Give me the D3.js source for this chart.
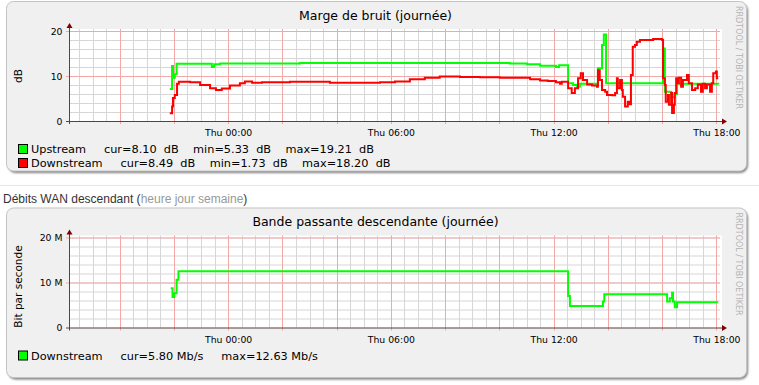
<!doctype html>
<html lang="fr">
<head>
<meta charset="utf-8">
<title>Marge de bruit / Bande passante descendante</title>
<script src="https://cdn.jsdelivr.net/npm/d3@7"></script>
<style>
body { margin: 0; background: #fff; }
svg text { font-family: "DejaVu Sans", sans-serif; }
</style>
</head>
<body>
<div id="svgHolder"></div>
<script>

var width = 759;
var height = 385;

// time window of both graphs (one day, ending Thu ~18:08)
var startTime = new Date(2012, 2, 14, 18, 8);
var endTime = new Date(2012, 2, 15, 18, 8);

// noise margin, dB  [day hh:mm, value]
var upstreamDb = [
	["14 21:51", 7.1], ["14 21:56", 12.2], ["14 21:58", 9.6], ["14 22:02", 10.4],
	["14 22:06", 12.7], ["14 23:24", 12.0], ["14 23:29", 12.6], ["14 23:42", 12.8],
	["15 02:39", 12.9], ["15 07:48", 12.9], ["15 10:23", 12.8], ["15 11:01", 12.6],
	["15 11:30", 12.3], ["15 12:05", 12.0], ["15 12:12", 12.4], ["15 12:32", 8.4],
	["15 12:43", 8.0], ["15 12:52", 7.6], ["15 12:58", 8.3], ["15 13:38", 11.7],
	["15 13:47", 16.9], ["15 13:51", 19.2], ["15 13:56", 8.4], ["15 16:02", 16.1],
	["15 16:06", 6.5], ["15 16:20", 5.3], ["15 16:28", 6.0], ["15 16:33", 8.3],
	["15 18:04", 8.1]
];

var downstreamDb = [
	["14 21:51", 1.7], ["14 21:56", 3.2], ["14 21:58", 5.1], ["14 22:02", 5.8],
	["14 22:07", 8.3], ["14 22:11", 8.7], ["14 22:36", 8.6], ["14 22:58", 8.0],
	["14 23:20", 7.3], ["14 23:33", 6.9], ["14 23:46", 7.2], ["15 00:04", 7.9],
	["15 00:26", 8.4], ["15 00:37", 8.8], ["15 00:53", 8.5], ["15 01:15", 8.6],
	["15 02:17", 8.7], ["15 03:45", 8.5], ["15 05:36", 8.6], ["15 06:09", 8.8],
	["15 06:42", 9.3], ["15 07:15", 9.6], ["15 07:48", 9.9], ["15 08:33", 9.8],
	["15 09:17", 9.7], ["15 10:01", 9.6], ["15 10:45", 9.6], ["15 11:08", 9.3],
	["15 11:30", 9.0], ["15 11:47", 8.9], ["15 12:05", 8.6], ["15 12:14", 8.3],
	["15 12:18", 8.7], ["15 12:32", 7.3], ["15 12:40", 6.2], ["15 12:47", 7.3],
	["15 12:54", 9.5], ["15 13:00", 10.6], ["15 13:05", 9.1], ["15 13:14", 8.1],
	["15 13:25", 7.9], ["15 13:36", 7.6], ["15 13:38", 11.3], ["15 13:42", 9.1],
	["15 13:47", 6.9], ["15 13:54", 6.5], ["15 13:58", 5.8], ["15 14:09", 5.7],
	["15 14:16", 6.2], ["15 14:20", 9.5], ["15 14:22", 7.3], ["15 14:27", 9.1],
	["15 14:31", 6.9], ["15 14:33", 5.4], ["15 14:38", 3.2], ["15 14:44", 4.3],
	["15 14:47", 3.7], ["15 14:51", 10.2], ["15 14:55", 16.5], ["15 15:00", 16.9],
	["15 15:04", 17.6], ["15 15:11", 18.0], ["15 15:40", 18.2], ["15 16:00", 18.0],
	["15 16:02", 9.5], ["15 16:06", 8.0], ["15 16:08", 4.3], ["15 16:13", 5.8],
	["15 16:15", 3.6], ["15 16:20", 6.2], ["15 16:22", 1.8], ["15 16:26", 3.6],
	["15 16:28", 6.2], ["15 16:31", 9.5], ["15 16:35", 8.4], ["15 16:37", 9.6],
	["15 16:42", 7.6], ["15 16:46", 9.1], ["15 16:55", 10.2], ["15 16:59", 8.4],
	["15 17:06", 6.9], ["15 17:13", 7.3], ["15 17:19", 8.1], ["15 17:26", 6.5],
	["15 17:30", 8.3], ["15 17:35", 7.3], ["15 17:39", 8.1], ["15 17:46", 6.5],
	["15 17:50", 8.4], ["15 17:53", 10.6], ["15 17:59", 11.0], ["15 18:01", 9.5],
	["15 18:04", 9.5]
];

// downstream bandwidth, Mb/s
var downstreamMbps = [
	["14 21:53", 8.7], ["14 21:57", 6.8], ["14 22:01", 7.6], ["14 22:06", 10.6],
	["14 22:10", 12.5], ["15 12:32", 7.0], ["15 12:36", 4.8], ["15 13:49", 5.8],
	["15 13:52", 7.4], ["15 16:11", 5.8], ["15 16:17", 6.5], ["15 16:22", 7.7],
	["15 16:24", 5.8], ["15 16:28", 4.5], ["15 16:33", 5.6], ["15 18:04", 5.6]
];

var noiseTitle = "Marge de bruit (journée)";
var noiseNames = ["Upstream", "Downstream"];
var noiseColors = ["#00ff00", "#ff0000"];
var noiseCur = ["8.10", "8.49"];
var noiseMin = ["5.33", "1.73"];
var noiseMax = ["19.21", "18.20"];

var bwTitle = "Bande passante descendante (journée)";
var bwNames = ["Downstream"];
var bwColors = ["#00ff00"];
var bwCur = ["5.80"];
var bwMax = ["12.63"];

var yTicksNoise = [0, 10, 20];
var yTicksBw = [0, 10, 20];

var parseTime = d3.timeParse("%Y-%m-%d %H:%M");
function toPoints(arr) {
	return arr.map(function(d) { return { t: parseTime("2012-03-" + d[0]), v: d[1] }; });
}

var svg = d3.select("#svgHolder").append("svg")
	.attr("width", width)
	.attr("height", height)
	.style("display", "block");

svg.append("rect").attr("width", width).attr("height", height).attr("fill", "#fff");

var defs = svg.append("defs");
defs.append("filter").attr("id", "shadow")
	.attr("x", "-5%").attr("y", "-5%").attr("width", "110%").attr("height", "110%")
	.append("feGaussianBlur").attr("stdDeviation", 0.8);

var x = d3.scaleTime().domain([startTime, endTime]).range([69, 720]);

// draws one rrdtool-like graph box
function drawPanel(top, cfg) {
	var g = svg.append("g").attr("transform", "translate(0," + top + ")");
	var y = d3.scaleLinear().domain([0, 20]).range([121, 31]);

	// frame
	g.append("rect")
		.attr("x", 8).attr("y", 3).attr("width", 740).attr("height", 170).attr("rx", 8)
		.attr("fill", "#808080").attr("filter", "url(#shadow)");
	g.append("rect")
		.attr("x", 6.5).attr("y", 1.5).attr("width", 740).attr("height", 169.5).attr("rx", 7)
		.attr("fill", "#f0f0f0").attr("stroke", "#c4c4c4");

	g.append("text")
		.attr("x", 375.5).attr("y", 19.5)
		.attr("text-anchor", "middle")
		.style("font-size", "12.5px")
		.text(cfg.title);

	g.append("text")
		.attr("transform", "translate(735.5,6) rotate(90)")
		.style("font-size", "8px")
		.attr("fill", "#b4b4b4")
		.text("RRDTOOL / TOBI OETIKER");

	g.append("text")
		.attr("transform", "translate(22," + cfg.labelY + ") rotate(-90)")
		.attr("text-anchor", "middle")
		.style("font-size", "10.5px")
		.text(cfg.yLabel);

	// canvas
	g.append("rect")
		.attr("x", 69).attr("y", 29).attr("width", 653).attr("height", 92)
		.attr("fill", "#fff");

	// minor grid
	g.append("g").selectAll("line")
		.data(d3.timeMinute.every(30).range(startTime, endTime))
		.enter().append("line")
		.attr("x1", function(d) { return Math.round(x(d)) + 0.5; })
		.attr("x2", function(d) { return Math.round(x(d)) + 0.5; })
		.attr("y1", 29).attr("y2", 121)
		.attr("stroke", "#d6d6d6");
	g.append("g").selectAll("line")
		.data(d3.range(2, 21, 2))
		.enter().append("line")
		.attr("x1", 69).attr("x2", 720)
		.attr("y1", function(d) { return Math.round(y(d)) + 0.5; })
		.attr("y2", function(d) { return Math.round(y(d)) + 0.5; })
		.attr("stroke", "#d6d6d6");

	// major grid
	g.append("g").selectAll("line")
		.data(d3.timeHour.every(2).range(startTime, endTime))
		.enter().append("line")
		.attr("x1", function(d) { return Math.round(x(d)) + 0.5; })
		.attr("x2", function(d) { return Math.round(x(d)) + 0.5; })
		.attr("y1", 29).attr("y2", 124)
		.attr("stroke", "#f3a8a8");
	g.append("g").selectAll("line")
		.data(cfg.yTicks.slice(1))
		.enter().append("line")
		.attr("x1", 66).attr("x2", 720)
		.attr("y1", function(d) { return Math.round(y(d)) + 0.5; })
		.attr("y2", function(d) { return Math.round(y(d)) + 0.5; })
		.attr("stroke", "#f3a8a8");

	// series
	var line = d3.line()
		.x(function(d) { return x(d.t); })
		.y(function(d) { return y(d.v); })
		.curve(d3.curveStepAfter);
	cfg.series.forEach(function(s, i) {
		g.append("path")
			.datum(toPoints(s))
			.attr("d", line)
			.attr("fill", "none")
			.attr("stroke", cfg.colors[i])
			.attr("stroke-width", 2);
	});

	// axes + arrows
	g.append("line").attr("x1", 66).attr("x2", 723).attr("y1", 121.5).attr("y2", 121.5)
		.attr("stroke", "#5a4040");
	g.append("line").attr("x1", 69.5).attr("x2", 69.5).attr("y1", 124).attr("y2", 27)
		.attr("stroke", "#5a4040");
	g.append("path").attr("d", "M722,118.5L727,121.5L722,124.5Z").attr("fill", "#800000");
	g.append("path").attr("d", "M66.5,28L69.5,23L72.5,28Z").attr("fill", "#800000");

	// tick labels
	g.append("g").selectAll("text")
		.data(cfg.yTicks)
		.enter().append("text")
		.attr("x", 62.5)
		.attr("y", function(d) { return y(d) + 3.5; })
		.attr("text-anchor", "end")
		.style("font-size", "9.3px")
		.text(cfg.yFormat);
	var fmt = d3.timeFormat("%a %H:%M");
	g.append("g").selectAll("text")
		.data(d3.timeHour.every(6).range(startTime, endTime))
		.enter().append("text")
		.attr("x", function(d) { return x(d) + 0.5; })
		.attr("y", 136)
		.attr("text-anchor", "middle")
		.style("font-size", "9.3px")
		.text(fmt);

	// legend
	cfg.legend.forEach(function(txt, i) {
		var by = 153 + i * 14;
		g.append("rect")
			.attr("x", 18.5).attr("y", by - 8.5).attr("width", 9).attr("height", 9)
			.attr("fill", cfg.colors[i]).attr("stroke", "#000");
		g.append("text")
			.attr("x", 31).attr("y", by)
			.attr("xml:space", "preserve")
			.style("white-space", "pre")
			.style("font-size", "11.3px")
			.text(txt);
	});
}

var gap = "     ";
drawPanel(0, {
	title: noiseTitle,
	yLabel: "dB",
	labelY: 76,
	yTicks: yTicksNoise,
	yFormat: function(d) { return d; },
	series: [upstreamDb, downstreamDb],
	colors: noiseColors,
	legend: noiseNames.map(function(n, i) {
		return n + gap + "cur=" + noiseCur[i] + "  dB" + gap.slice(1) + "min=" + noiseMin[i] + "  dB" +
			gap.slice(1) + "max=" + noiseMax[i] + "  dB";
	})
});

drawPanel(206.5, {
	title: bwTitle,
	yLabel: "Bit par seconde",
	labelY: 80,
	yTicks: yTicksBw,
	yFormat: function(d) { return d == 0 ? "0" : d + " M"; },
	series: [downstreamMbps],
	colors: bwColors,
	legend: bwNames.map(function(n, i) {
		return n + gap + "cur=" + bwCur[i] + " Mb/s" + gap + "max=" + bwMax[i] + " Mb/s";
	})
});

// separator and section heading between the two graphs
svg.append("line").attr("x1", 0).attr("x2", width).attr("y1", 185.5).attr("y2", 185.5)
	.attr("stroke", "#e6e6e6");
var head = svg.append("text")
	.attr("x", 3).attr("y", 203)
	.style("font-family", "'Liberation Sans', Arial, sans-serif")
	.style("font-size", "12px")
	.attr("fill", "#333");
head.append("tspan").text("Débits WAN descendant (");
head.append("tspan").attr("fill", "#999").text("heure jour semaine");
head.append("tspan").text(")");

</script>
</body>
</html>
